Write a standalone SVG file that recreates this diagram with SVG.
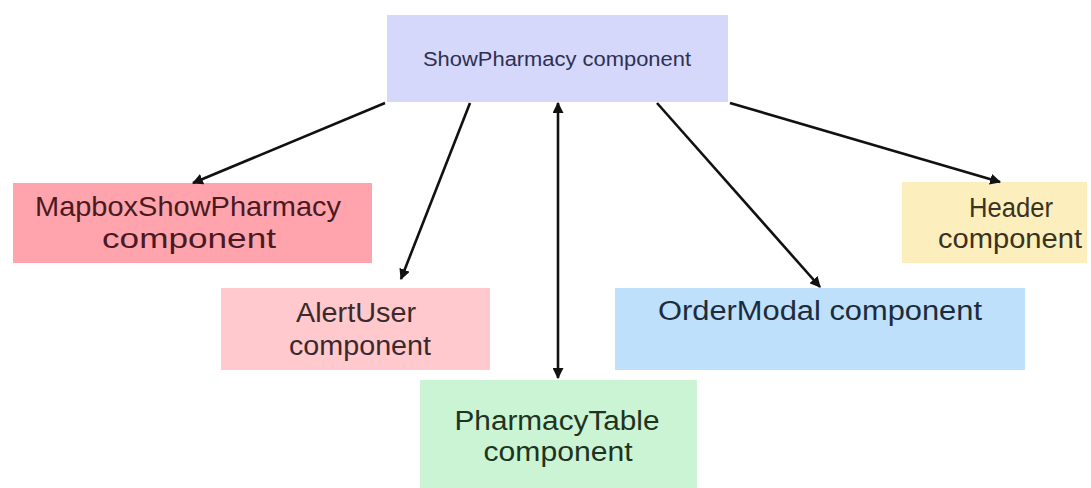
<svg xmlns="http://www.w3.org/2000/svg" width="1091" height="488" viewBox="0 0 1091 488">
  <style>
    .lbl { font-family: "Liberation Sans", Arial, sans-serif; text-anchor: middle; }
    .big { font-size: 27px; }
    .huge { font-size: 28px; }
    .small { font-size: 20px; }
    .edge { stroke: #111; stroke-width: 2.6; fill: none; }
  </style>
  <defs>
    <marker id="head" viewBox="0 0 10 10" refX="9" refY="5" markerWidth="11" markerHeight="11" markerUnits="userSpaceOnUse" orient="auto-start-reverse">
      <path d="M0,0 L10,5 L0,10 z" fill="#111"/>
    </marker>
  </defs>
  <rect width="1091" height="488" fill="#ffffff"/>

  <g id="show-pharmacy">
    <rect x="387" y="15" width="341" height="87" fill="#d5d7fb"/>
    <text class="lbl small" x="557" y="66" textLength="268" lengthAdjust="spacingAndGlyphs" fill="#2e3050">ShowPharmacy component</text>
  </g>

  <g id="mapbox-show-pharmacy">
    <rect x="13" y="183" width="359" height="80" fill="#ffa4ad"/>
    <text class="lbl huge" x="188" y="216" textLength="306" lengthAdjust="spacingAndGlyphs" fill="#4a1a22">MapboxShowPharmacy</text>
    <text class="lbl huge" x="189" y="248" textLength="174" lengthAdjust="spacingAndGlyphs" fill="#4a1a22">component</text>
  </g>

  <g id="alert-user">
    <rect x="221" y="288" width="269" height="82" fill="#ffc9ce"/>
    <text class="lbl big" x="356" y="322" textLength="120" lengthAdjust="spacingAndGlyphs" fill="#3a2a2c">AlertUser</text>
    <text class="lbl big" x="360" y="355" textLength="142" lengthAdjust="spacingAndGlyphs" fill="#3a2a2c">component</text>
  </g>

  <g id="pharmacy-table">
    <rect x="420" y="380" width="277" height="108" fill="#caf4d3"/>
    <text class="lbl big" x="557" y="430" textLength="205" lengthAdjust="spacingAndGlyphs" fill="#1e3320">PharmacyTable</text>
    <text class="lbl big" x="558" y="461" textLength="149" lengthAdjust="spacingAndGlyphs" fill="#1e3320">component</text>
  </g>

  <g id="order-modal">
    <rect x="615" y="288" width="410" height="82" fill="#bee0fb"/>
    <text class="lbl big" x="820" y="320" textLength="324" lengthAdjust="spacingAndGlyphs" fill="#1d2b3c">OrderModal component</text>
  </g>

  <g id="header">
    <rect x="902" y="182" width="185" height="81" fill="#fcefbd"/>
    <text class="lbl big" x="1011" y="217" textLength="84" lengthAdjust="spacingAndGlyphs" fill="#3a3222">Header</text>
    <text class="lbl big" x="1010" y="248" textLength="144" lengthAdjust="spacingAndGlyphs" fill="#3a3222">component</text>
  </g>

  <g id="connectors">
    <line class="edge" x1="385" y1="103" x2="193" y2="183" marker-end="url(#head)"/>
    <line class="edge" x1="470" y1="103" x2="401" y2="279" marker-end="url(#head)"/>
    <line class="edge" x1="558" y1="103" x2="558" y2="378" marker-start="url(#head)" marker-end="url(#head)"/>
    <line class="edge" x1="657" y1="103" x2="820" y2="287" marker-end="url(#head)"/>
    <line class="edge" x1="730" y1="103" x2="1000" y2="182" marker-end="url(#head)"/>
  </g>
</svg>
